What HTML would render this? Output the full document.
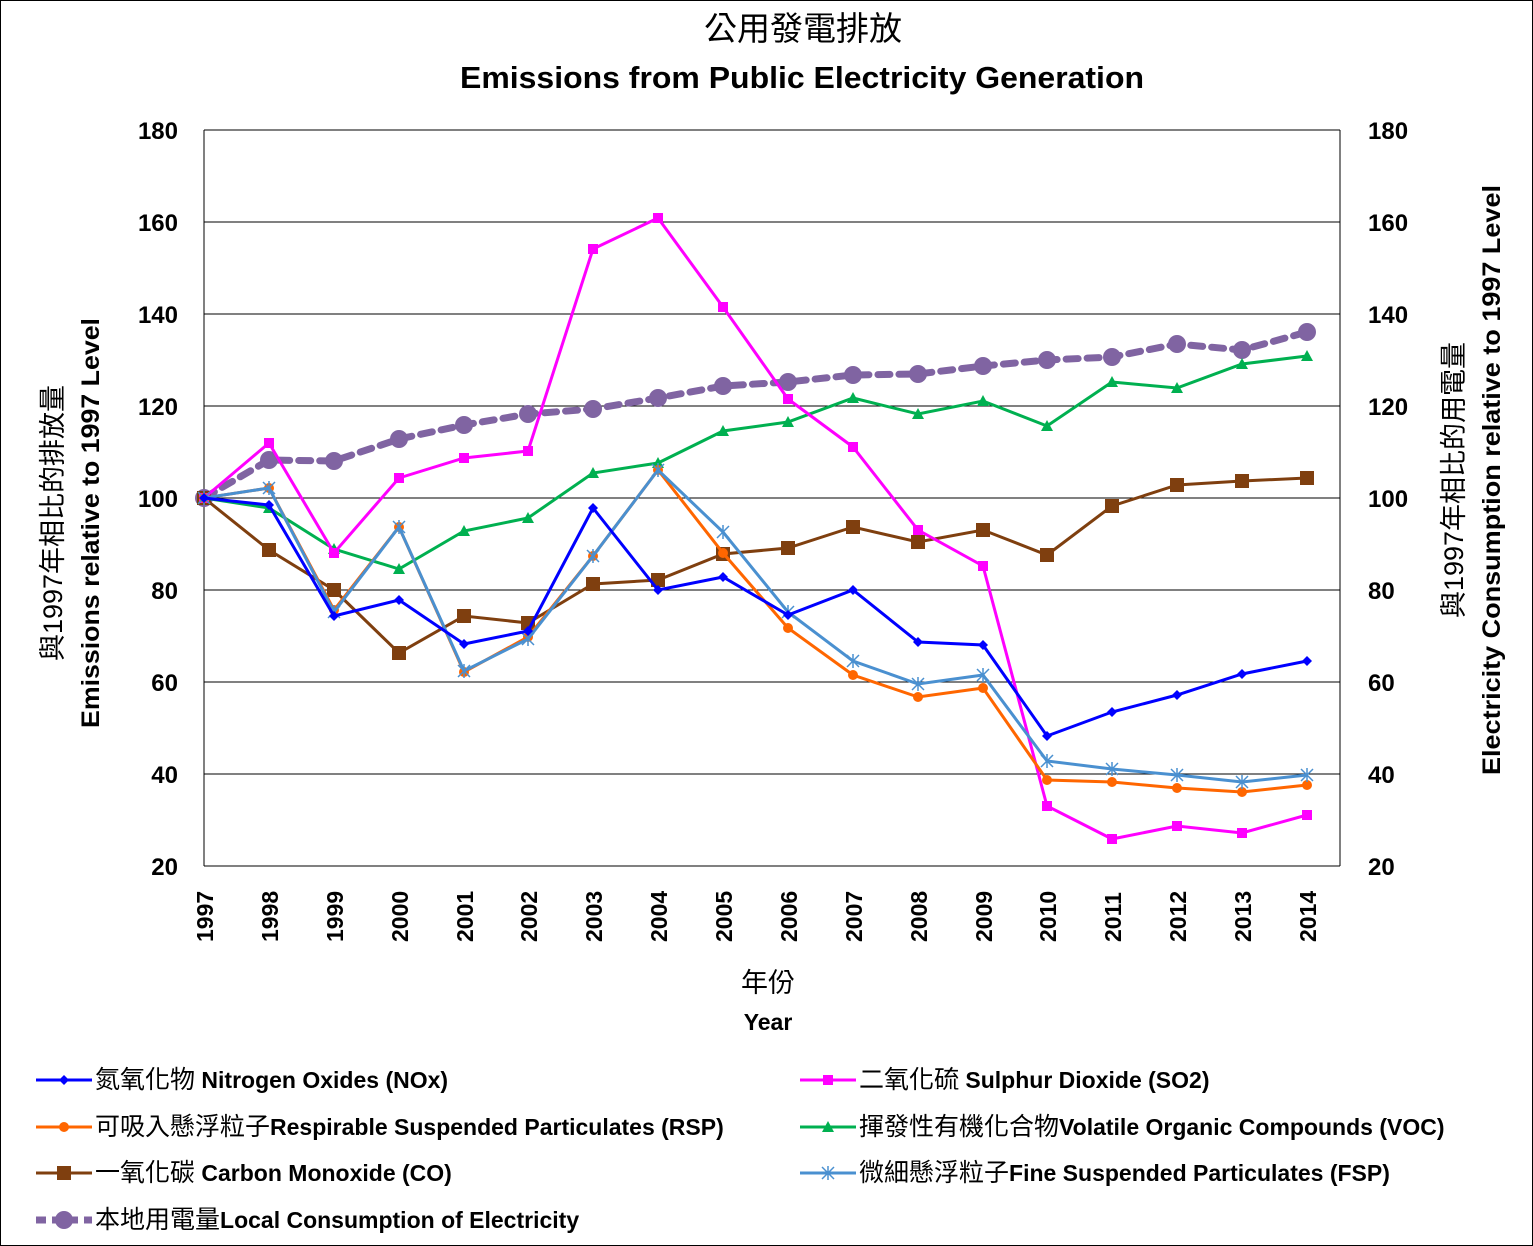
<!DOCTYPE html>
<html><head><meta charset="utf-8"><style>
html,body{margin:0;padding:0;background:#fff}
svg{display:block}
text{font-family:"Liberation Sans","Noto Sans CJK TC",sans-serif;fill:#000}
.b{font-weight:bold}
</style></head><body>
<svg width="1533" height="1246" viewBox="0 0 1533 1246" xmlns="http://www.w3.org/2000/svg" xmlns:xlink="http://www.w3.org/1999/xlink">
<defs>
<polygon id="md" points="0,-5 5,0 0,5 -5,0"/>
<rect id="ms" x="-5" y="-5" width="10" height="10"/>
<circle id="mc" r="5"/>
<polygon id="mt" points="0,-6 6,5 -6,5"/>
<rect id="mS" x="-7" y="-7" width="14" height="14"/>
<path id="mx" d="M-6 -6L6 6M6 -6L-6 6M0 -7L0 7" fill="none" stroke-width="1.5"/>
<circle id="mC" r="9"/>
</defs>
<rect x="0.5" y="0.5" width="1532" height="1245" fill="#fff" stroke="#000"/>
<text x="803" y="40" text-anchor="middle" font-size="33">公用發電排放</text>
<text x="802" y="88" text-anchor="middle" font-size="31" class="b" textLength="684" lengthAdjust="spacingAndGlyphs">Emissions from Public Electricity Generation</text>
<g stroke="#000" stroke-width="1">
<line x1="204" y1="130" x2="1340" y2="130"/><line x1="204" y1="222" x2="1340" y2="222"/>
<line x1="204" y1="314" x2="1340" y2="314"/><line x1="204" y1="406" x2="1340" y2="406"/>
<line x1="204" y1="498" x2="1340" y2="498"/><line x1="204" y1="590" x2="1340" y2="590"/>
<line x1="204" y1="682" x2="1340" y2="682"/><line x1="204" y1="774" x2="1340" y2="774"/>
<line x1="204" y1="866" x2="1340" y2="866"/>
<line x1="204" y1="130" x2="204" y2="866"/><line x1="1340" y1="130" x2="1340" y2="866"/>
</g>
<g font-size="24" class="b" text-anchor="end">
<text x="178" y="139">180</text><text x="178" y="231">160</text><text x="178" y="323">140</text><text x="178" y="415">120</text><text x="178" y="507">100</text><text x="178" y="599">80</text><text x="178" y="691">60</text><text x="178" y="783">40</text><text x="178" y="875">20</text>
</g>
<g font-size="24" class="b" text-anchor="start">
<text x="1368" y="139">180</text><text x="1368" y="231">160</text><text x="1368" y="323">140</text><text x="1368" y="415">120</text><text x="1368" y="507">100</text><text x="1368" y="599">80</text><text x="1368" y="691">60</text><text x="1368" y="783">40</text><text x="1368" y="875">20</text>
</g>
<g font-size="23" class="b">
<text transform="translate(213,942) rotate(-90)">1997</text>
<text transform="translate(278,942) rotate(-90)">1998</text>
<text transform="translate(343,942) rotate(-90)">1999</text>
<text transform="translate(408,942) rotate(-90)">2000</text>
<text transform="translate(473,942) rotate(-90)">2001</text>
<text transform="translate(537,942) rotate(-90)">2002</text>
<text transform="translate(602,942) rotate(-90)">2003</text>
<text transform="translate(667,942) rotate(-90)">2004</text>
<text transform="translate(732,942) rotate(-90)">2005</text>
<text transform="translate(797,942) rotate(-90)">2006</text>
<text transform="translate(862,942) rotate(-90)">2007</text>
<text transform="translate(927,942) rotate(-90)">2008</text>
<text transform="translate(992,942) rotate(-90)">2009</text>
<text transform="translate(1056,942) rotate(-90)">2010</text>
<text transform="translate(1121,942) rotate(-90)">2011</text>
<text transform="translate(1186,942) rotate(-90)">2012</text>
<text transform="translate(1251,942) rotate(-90)">2013</text>
<text transform="translate(1316,942) rotate(-90)">2014</text>
</g>
<text x="768" y="992" text-anchor="middle" font-size="27">年份</text>
<text x="768" y="1030" text-anchor="middle" font-size="23" class="b">Year</text>
<text transform="translate(62,523) rotate(-90)" text-anchor="middle" font-size="27">與1997年相比的排放量</text>
<text transform="translate(99,523) rotate(-90)" text-anchor="middle" font-size="25" class="b" textLength="410" lengthAdjust="spacingAndGlyphs">Emissions relative to 1997 Level</text>
<text transform="translate(1463,480) rotate(-90)" text-anchor="middle" font-size="27">與1997年相比的用電量</text>
<text transform="translate(1500,480) rotate(-90)" text-anchor="middle" font-size="25" class="b" textLength="590" lengthAdjust="spacingAndGlyphs">Electricity Consumption relative to 1997 Level</text>

<g fill="#8064A2">
<polyline fill="none" stroke="#8064A2" stroke-width="7" stroke-dasharray="12 9" stroke-linecap="round" points="204,498 269,460 334,461 399,439 464,425 528,414 593,409 658,398 723,386 788,382 853,375 918,374 983,366 1047,360 1112,357 1177,344 1242,350 1307,332"/>
<use xlink:href="#mC" x="204" y="498"/><use xlink:href="#mC" x="269" y="460"/><use xlink:href="#mC" x="334" y="461"/><use xlink:href="#mC" x="399" y="439"/><use xlink:href="#mC" x="464" y="425"/><use xlink:href="#mC" x="528" y="414"/><use xlink:href="#mC" x="593" y="409"/><use xlink:href="#mC" x="658" y="398"/><use xlink:href="#mC" x="723" y="386"/><use xlink:href="#mC" x="788" y="382"/><use xlink:href="#mC" x="853" y="375"/><use xlink:href="#mC" x="918" y="374"/><use xlink:href="#mC" x="983" y="366"/><use xlink:href="#mC" x="1047" y="360"/><use xlink:href="#mC" x="1112" y="357"/><use xlink:href="#mC" x="1177" y="344"/><use xlink:href="#mC" x="1242" y="350"/><use xlink:href="#mC" x="1307" y="332"/>
</g>
<g fill="#7F3F0F">
<polyline fill="none" stroke="#7F3F0F" stroke-width="3" points="204,498 269,550 334,590 399,653 464,616 528,623 593,584 658,580 723,554 788,548 853,527 918,542 983,530 1047,555 1112,506 1177,485 1242,481 1307,478"/>
<use xlink:href="#mS" x="204" y="498"/><use xlink:href="#mS" x="269" y="550"/><use xlink:href="#mS" x="334" y="590"/><use xlink:href="#mS" x="399" y="653"/><use xlink:href="#mS" x="464" y="616"/><use xlink:href="#mS" x="528" y="623"/><use xlink:href="#mS" x="593" y="584"/><use xlink:href="#mS" x="658" y="580"/><use xlink:href="#mS" x="723" y="554"/><use xlink:href="#mS" x="788" y="548"/><use xlink:href="#mS" x="853" y="527"/><use xlink:href="#mS" x="918" y="542"/><use xlink:href="#mS" x="983" y="530"/><use xlink:href="#mS" x="1047" y="555"/><use xlink:href="#mS" x="1112" y="506"/><use xlink:href="#mS" x="1177" y="485"/><use xlink:href="#mS" x="1242" y="481"/><use xlink:href="#mS" x="1307" y="478"/>
</g>
<g fill="#00B050">
<polyline fill="none" stroke="#00B050" stroke-width="3" points="204,498 269,508 334,549 399,569 464,531 528,518 593,473 658,463 723,431 788,422 853,398 918,414 983,401 1047,426 1112,382 1177,388 1242,364 1307,356"/>
<use xlink:href="#mt" x="204" y="498"/><use xlink:href="#mt" x="269" y="508"/><use xlink:href="#mt" x="334" y="549"/><use xlink:href="#mt" x="399" y="569"/><use xlink:href="#mt" x="464" y="531"/><use xlink:href="#mt" x="528" y="518"/><use xlink:href="#mt" x="593" y="473"/><use xlink:href="#mt" x="658" y="463"/><use xlink:href="#mt" x="723" y="431"/><use xlink:href="#mt" x="788" y="422"/><use xlink:href="#mt" x="853" y="398"/><use xlink:href="#mt" x="918" y="414"/><use xlink:href="#mt" x="983" y="401"/><use xlink:href="#mt" x="1047" y="426"/><use xlink:href="#mt" x="1112" y="382"/><use xlink:href="#mt" x="1177" y="388"/><use xlink:href="#mt" x="1242" y="364"/><use xlink:href="#mt" x="1307" y="356"/>
</g>
<g fill="#FF00FF">
<polyline fill="none" stroke="#FF00FF" stroke-width="3" points="204,498 269,443 334,553 399,478 464,458 528,451 593,249 658,218 723,307 788,399 853,447 918,530 983,566 1047,806 1112,839 1177,826 1242,833 1307,815"/>
<use xlink:href="#ms" x="204" y="498"/><use xlink:href="#ms" x="269" y="443"/><use xlink:href="#ms" x="334" y="553"/><use xlink:href="#ms" x="399" y="478"/><use xlink:href="#ms" x="464" y="458"/><use xlink:href="#ms" x="528" y="451"/><use xlink:href="#ms" x="593" y="249"/><use xlink:href="#ms" x="658" y="218"/><use xlink:href="#ms" x="723" y="307"/><use xlink:href="#ms" x="788" y="399"/><use xlink:href="#ms" x="853" y="447"/><use xlink:href="#ms" x="918" y="530"/><use xlink:href="#ms" x="983" y="566"/><use xlink:href="#ms" x="1047" y="806"/><use xlink:href="#ms" x="1112" y="839"/><use xlink:href="#ms" x="1177" y="826"/><use xlink:href="#ms" x="1242" y="833"/><use xlink:href="#ms" x="1307" y="815"/>
</g>
<g fill="#FF6600">
<polyline fill="none" stroke="#FF6600" stroke-width="3" points="204,498 269,488 334,610 399,527 464,672 528,637 593,556 658,470 723,553 788,628 853,675 918,697 983,688 1047,780 1112,782 1177,788 1242,792 1307,785"/>
<use xlink:href="#mc" x="204" y="498"/><use xlink:href="#mc" x="269" y="488"/><use xlink:href="#mc" x="334" y="610"/><use xlink:href="#mc" x="399" y="527"/><use xlink:href="#mc" x="464" y="672"/><use xlink:href="#mc" x="528" y="637"/><use xlink:href="#mc" x="593" y="556"/><use xlink:href="#mc" x="658" y="470"/><use xlink:href="#mc" x="723" y="553"/><use xlink:href="#mc" x="788" y="628"/><use xlink:href="#mc" x="853" y="675"/><use xlink:href="#mc" x="918" y="697"/><use xlink:href="#mc" x="983" y="688"/><use xlink:href="#mc" x="1047" y="780"/><use xlink:href="#mc" x="1112" y="782"/><use xlink:href="#mc" x="1177" y="788"/><use xlink:href="#mc" x="1242" y="792"/><use xlink:href="#mc" x="1307" y="785"/>
</g>
<g stroke="#4A90D0">
<polyline fill="none" stroke="#4A90D0" stroke-width="3" points="204,498 269,488 334,612 399,527 464,671 528,639 593,556 658,470 723,532 788,612 853,661 918,684 983,675 1047,761 1112,769 1177,775 1242,782 1307,775"/>
<use xlink:href="#mx" x="204" y="498"/><use xlink:href="#mx" x="269" y="488"/><use xlink:href="#mx" x="334" y="612"/><use xlink:href="#mx" x="399" y="527"/><use xlink:href="#mx" x="464" y="671"/><use xlink:href="#mx" x="528" y="639"/><use xlink:href="#mx" x="593" y="556"/><use xlink:href="#mx" x="658" y="470"/><use xlink:href="#mx" x="723" y="532"/><use xlink:href="#mx" x="788" y="612"/><use xlink:href="#mx" x="853" y="661"/><use xlink:href="#mx" x="918" y="684"/><use xlink:href="#mx" x="983" y="675"/><use xlink:href="#mx" x="1047" y="761"/><use xlink:href="#mx" x="1112" y="769"/><use xlink:href="#mx" x="1177" y="775"/><use xlink:href="#mx" x="1242" y="782"/><use xlink:href="#mx" x="1307" y="775"/>
</g>
<g fill="#0000FF">
<polyline fill="none" stroke="#0000FF" stroke-width="3" points="204,498 269,505 334,616 399,600 464,644 528,631 593,508 658,590 723,577 788,615 853,590 918,642 983,645 1047,736 1112,712 1177,695 1242,674 1307,661"/>
<use xlink:href="#md" x="204" y="498"/><use xlink:href="#md" x="269" y="505"/><use xlink:href="#md" x="334" y="616"/><use xlink:href="#md" x="399" y="600"/><use xlink:href="#md" x="464" y="644"/><use xlink:href="#md" x="528" y="631"/><use xlink:href="#md" x="593" y="508"/><use xlink:href="#md" x="658" y="590"/><use xlink:href="#md" x="723" y="577"/><use xlink:href="#md" x="788" y="615"/><use xlink:href="#md" x="853" y="590"/><use xlink:href="#md" x="918" y="642"/><use xlink:href="#md" x="983" y="645"/><use xlink:href="#md" x="1047" y="736"/><use xlink:href="#md" x="1112" y="712"/><use xlink:href="#md" x="1177" y="695"/><use xlink:href="#md" x="1242" y="674"/><use xlink:href="#md" x="1307" y="661"/>
</g>

<g>
<line x1="36" y1="1080" x2="92" y2="1080" stroke="#0000FF" stroke-width="3"/><use xlink:href="#md" x="64" y="1080" fill="#0000FF"/>
<text x="95" y="1088" font-size="25">氮氧化物<tspan font-size="23" font-weight="bold"> Nitrogen Oxides (NOx)</tspan></text>
<line x1="800" y1="1080" x2="856" y2="1080" stroke="#FF00FF" stroke-width="3"/><use xlink:href="#ms" x="828" y="1080" fill="#FF00FF"/>
<text x="859" y="1088" font-size="25">二氧化硫<tspan font-size="23" font-weight="bold"> Sulphur Dioxide (SO2)</tspan></text>
<line x1="36" y1="1127" x2="92" y2="1127" stroke="#FF6600" stroke-width="3"/><use xlink:href="#mc" x="64" y="1127" fill="#FF6600"/>
<text x="95" y="1135" font-size="25">可吸入懸浮粒子<tspan font-size="23" font-weight="bold">Respirable Suspended Particulates (RSP)</tspan></text>
<line x1="800" y1="1127" x2="856" y2="1127" stroke="#00B050" stroke-width="3"/><use xlink:href="#mt" x="828" y="1127" fill="#00B050"/>
<text x="859" y="1135" font-size="25">揮發性有機化合物<tspan font-size="23" font-weight="bold">Volatile Organic Compounds (VOC)</tspan></text>
<line x1="36" y1="1173" x2="92" y2="1173" stroke="#7F3F0F" stroke-width="3"/><use xlink:href="#mS" x="64" y="1173" fill="#7F3F0F"/>
<text x="95" y="1181" font-size="25">一氧化碳<tspan font-size="23" font-weight="bold"> Carbon Monoxide (CO)</tspan></text>
<line x1="800" y1="1173" x2="856" y2="1173" stroke="#4A90D0" stroke-width="3"/><use xlink:href="#mx" x="828" y="1173" stroke="#4A90D0"/>
<text x="859" y="1181" font-size="25">微細懸浮粒子<tspan font-size="23" font-weight="bold">Fine Suspended Particulates (FSP)</tspan></text>
<line x1="36" y1="1220" x2="92" y2="1220" stroke="#8064A2" stroke-width="7" stroke-dasharray="10 6"/><use xlink:href="#mC" x="64" y="1220" fill="#8064A2"/>
<text x="95" y="1228" font-size="25">本地用電量<tspan font-size="23" font-weight="bold">Local Consumption of Electricity</tspan></text>
</g>
</svg>
</body></html>
